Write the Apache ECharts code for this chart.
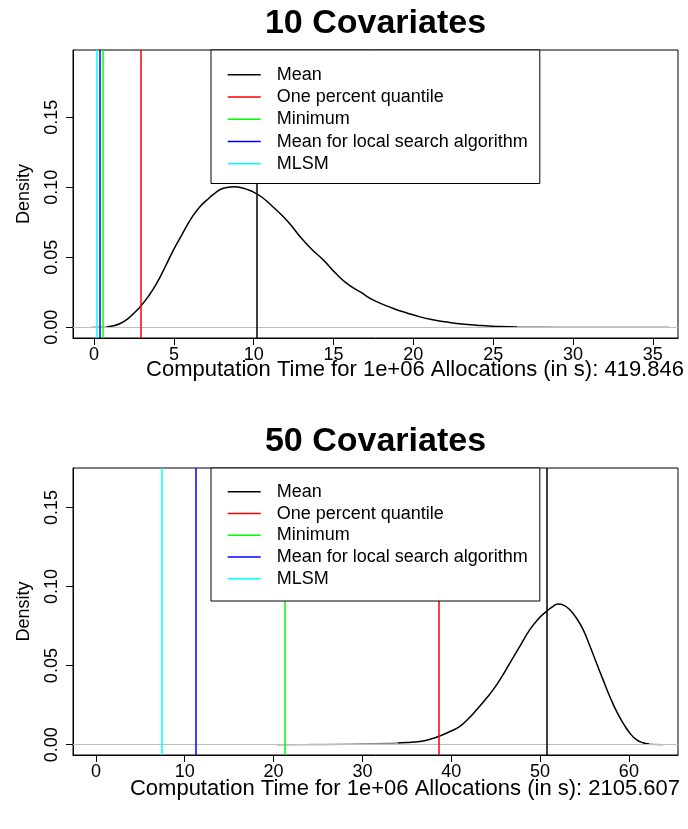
<!DOCTYPE html>
<html>
<head>
<meta charset="utf-8">
<script src="https://cdn.jsdelivr.net/npm/echarts@6/dist/echarts.min.js"></script>
<style>
  html, body { margin: 0; padding: 0; background: #fff; }
  #chart { width: 688px; height: 829px; }
</style>
</head>
<body>
<div id="chart"></div>
<script>
// kernel density, 10 covariates
const x10 = [-0.15, 0.3, 0.8, 1.2, 1.6, 2.0, 2.4, 2.88, 3.4, 3.92, 4.45, 4.97, 5.5, 6.02, 6.55, 7.06, 7.6, 8.1, 8.73, 9.3, 9.9, 10.5, 11.2, 11.86, 12.4, 12.91, 13.6, 14.37, 15.1, 15.83, 16.7, 17.5, 18.75, 19.6, 20.42, 21.3, 22.2, 23.2, 24.2, 25.2, 26.5, 28, 30, 33, 36];
const dens10 = [0, 0, 0.0003, 0.001, 0.0025, 0.005, 0.009, 0.0145, 0.022, 0.0313, 0.043, 0.0551, 0.066, 0.0765, 0.085, 0.0908, 0.096, 0.0992, 0.1003, 0.0995, 0.097, 0.093, 0.086, 0.0789, 0.072, 0.0646, 0.056, 0.0479, 0.039, 0.0313, 0.025, 0.0193, 0.0134, 0.0102, 0.0074, 0.0052, 0.0035, 0.0021, 0.0012, 0.0006, 0.0002, 0.0001, 0, 0, 0];

// kernel density, 50 covariates
const x50 = [20.4, 24, 28, 31, 33.5, 35, 36.49, 37.6, 38.63, 39.8, 40.98, 41.9, 42.86, 43.8, 44.73, 45.7, 46.6, 47.7, 48.85, 49.8, 50.73, 51.4, 52.04, 52.7, 53.35, 54.1, 54.85, 55.6, 56.35, 57.1, 57.85, 58.6, 59.35, 60.1, 60.85, 61.6, 62.35, 63.1, 63.85];
const dens50 = [0, 0.0001, 0.0003, 0.0006, 0.001, 0.0014, 0.0021, 0.0034, 0.0053, 0.0082, 0.0116, 0.0163, 0.0221, 0.0283, 0.0348, 0.043, 0.0516, 0.062, 0.0727, 0.0795, 0.0843, 0.0872, 0.0889, 0.0881, 0.0853, 0.08, 0.0727, 0.0625, 0.0516, 0.041, 0.0305, 0.0212, 0.0137, 0.0074, 0.0032, 0.0012, 0.0004, 0.0001, 0];

// vertical reference lines
const lineNames = ['Mean', 'One percent quantile', 'Minimum', 'Mean for local search algorithm', 'MLSM'];
const lineColors = ['#000000', '#ff0000', '#00ff00', '#0000ff', '#00ffff'];
const vlines10 = [10.19, 2.9, 0.54, 0.37, 0.14];
const vlines50 = [50.78, 38.63, 21.23, 11.29, 7.43];

const xTicks10 = [0, 5, 10, 15, 20, 25, 30, 35];
const xTicks50 = [0, 10, 20, 30, 40, 50, 60];
const yTicks = [0, 0.05, 0.10, 0.15];

const titles = ['10 Covariates', '50 Covariates'];
const xLabels = [
  'Computation Time for 1e+06 Allocations (in s): 419.846',
  'Computation Time for 1e+06 Allocations (in s): 2105.607'
];

const FONT = '"Liberation Sans", Arial, sans-serif';

const chart = echarts.init(document.getElementById('chart'));

function xAxisFor(idx, min, max, ticks) {
  return {
    type: 'value', gridIndex: idx, min: min, max: max,
    axisLine: { show: true, onZero: false, lineStyle: { color: '#000', width: 1 } },
    axisTick: { show: true, length: 7, customValues: ticks, lineStyle: { color: '#000', width: 1 } },
    axisLabel: { customValues: ticks, margin: 8, color: '#000', fontSize: 18, fontFamily: FONT },
    splitLine: { show: false }
  };
}

function yAxisFor(idx, min, max) {
  return {
    type: 'value', gridIndex: idx, min: min, max: max,
    name: 'Density', nameLocation: 'middle', nameGap: 40, nameRotate: 90,
    nameTextStyle: { color: '#000', fontSize: 18, fontFamily: FONT },
    axisLine: { show: true, onZero: false, lineStyle: { color: '#000', width: 1 } },
    axisTick: { show: true, length: 7, customValues: yTicks, lineStyle: { color: '#000', width: 1 } },
    axisLabel: {
      customValues: yTicks, rotate: 90, margin: 12, color: '#000', fontSize: 18, fontFamily: FONT,
      formatter: v => v.toFixed(2)
    },
    splitLine: { show: false }
  };
}

function seriesFor(idx, xs, ys, vlines) {
  const out = [{
    type: 'line', name: 'density', xAxisIndex: idx, yAxisIndex: idx,
    data: xs.map((x, i) => [x, ys[i]]),
    showSymbol: false, smooth: 0.5,
    lineStyle: { width: 1.5 },
    z: 3,
    markLine: {
      silent: true, symbol: 'none', label: { show: false },
      lineStyle: { color: '#bebebe', width: 1, type: 'solid' },
      data: [{ yAxis: 0 }]
    }
  }];
  lineNames.forEach((name, i) => {
    out.push({
      type: 'line', name: name, xAxisIndex: idx, yAxisIndex: idx,
      data: [], color: lineColors[i],
      itemStyle: { color: lineColors[i] },
      lineStyle: { color: lineColors[i] },
      markLine: {
        silent: true, symbol: 'none', label: { show: false },
        lineStyle: { color: lineColors[i], width: 1.5, type: 'solid' },
        data: [{ xAxis: vlines[i] }]
      }
    });
  });
  return out;
}

function legendFor(top, lh, padTop, padBottom) {
  return {
    data: lineNames, orient: 'vertical', left: 211, top: top,
    icon: 'rect', itemWidth: 33, itemHeight: 1.5, itemGap: 0,
    padding: [padTop, 12, padBottom, 16.7],
    backgroundColor: '#fff', borderColor: '#000', borderWidth: 1,
    selectedMode: false, z: 10,
    textStyle: { color: '#000', fontSize: 18, fontFamily: FONT, lineHeight: lh, padding: [0, 0, 0, 11] }
  };
}

function textEl(text, x, y, size, weight) {
  return {
    type: 'text', x: x, y: y, z: 20,
    style: {
      text: text, fill: '#000', font: weight + ' ' + size + 'px ' + FONT,
      textAlign: 'center', textVerticalAlign: 'middle'
    }
  };
}

// the flat stretches of the curve sit on the grey zero line and look grey
const flatGrey = '#8c8c8c';

chart.setOption({
  animation: false,
  backgroundColor: '#fff',
  grid: [
    { left: 73, top: 50, width: 605, height: 288, show: true, borderColor: '#000', borderWidth: 1, backgroundColor: 'transparent' },
    { left: 73, top: 468, width: 605, height: 287, show: true, borderColor: '#000', borderWidth: 1, backgroundColor: 'transparent' }
  ],
  xAxis: [xAxisFor(0, -1.32, 36.58, xTicks10), xAxisFor(1, -2.58, 65.53, xTicks50)],
  yAxis: [yAxisFor(0, -0.0077, 0.198), yAxisFor(1, -0.0065, 0.1749)],
  legend: [legendFor(50, 22.3, 13.5, 8.5), legendFor(468, 21.7, 13, 11.5)],
  visualMap: [
    {
      type: 'piecewise', show: false, seriesIndex: 0, dimension: 0,
      pieces: [{ lt: 0.8, color: flatGrey }, { gte: 0.8, lte: 26.5, color: '#000' }, { gt: 26.5, color: flatGrey }]
    },
    {
      type: 'piecewise', show: false, seriesIndex: 6, dimension: 0,
      pieces: [{ lt: 34, color: flatGrey }, { gte: 34, lte: 62.3, color: '#000' }, { gt: 62.3, color: flatGrey }]
    }
  ],
  series: seriesFor(0, x10, dens10, vlines10).concat(seriesFor(1, x50, dens50, vlines50)),
  graphic: [
    textEl(titles[0], 375.5, 24, 34, 'bold'),
    textEl(xLabels[0], 415, 370, 22, 'normal'),
    textEl(titles[1], 375.5, 442, 34, 'bold'),
    textEl(xLabels[1], 405, 789, 22, 'normal')
  ]
});
</script>
</body>
</html>
